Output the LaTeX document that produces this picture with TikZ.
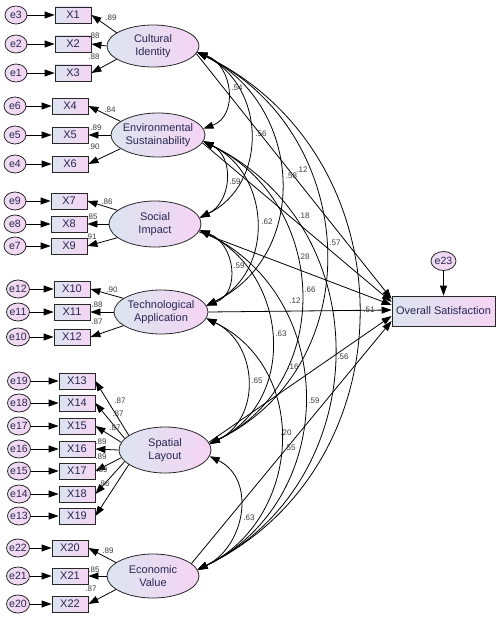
\documentclass[tikz,border=0pt]{standalone}
\usepackage{fontspec}
\setmainfont{Liberation Sans}
\usetikzlibrary{shapes.geometric,arrows.meta}
\definecolor{lftc}{RGB}{220,228,240}
\definecolor{rgtc}{RGB}{245,212,243}
\definecolor{errl}{RGB}{236,222,240}
\definecolor{errr}{RGB}{245,212,243}
\definecolor{txtc}{RGB}{40,40,80}
\definecolor{numc}{RGB}{60,60,60}
\definecolor{edgec}{RGB}{40,40,40}
\begin{document}
\begin{tikzpicture}[x=1pt,y=-1pt,
  latn/.style={ellipse, draw=edgec, line width=0.8pt, left color=lftc, right color=rgtc, minimum width=92pt, minimum height=44pt, inner sep=0pt},
  lt/.style={align=center, font=\fontsize{11}{13}\selectfont, text=txtc, inner sep=0pt},
  obs/.style={rectangle, draw=edgec, line width=0.8pt, left color=lftc, right color=rgtc, minimum width=36pt, minimum height=16pt, inner sep=0pt, font=\fontsize{11}{13}\selectfont, text=txtc},
  err/.style={ellipse, draw=edgec, line width=0.8pt, left color=errl, right color=errr, minimum width=22pt, minimum height=18pt, inner sep=0pt},
  et/.style={font=\fontsize{10.5}{12}\selectfont, text=txtc, inner sep=0pt},
  arr/.style={-{Triangle[length=10pt,width=7pt]}, line width=0.8pt},
  cov/.style={{Triangle[length=10pt,width=7pt]}-{Triangle[length=10pt,width=7pt]}, line width=0.8pt, out=-26, in=26, looseness=1.18},
  covn/.style={cov, out=-20, in=20, looseness=1.26},
  num/.style={font=\fontsize{8}{9}\selectfont, text=numc, inner sep=0pt}
]
\fill[white] (0,0) rectangle (498,618);
\useasboundingbox (0,0) rectangle (498,618);

% latent variables
\node[latn, minimum height=42pt, label={[lt]center:{Cultural\\Identity}}] (ci) at (153,46) {};
\node[latn, minimum width=94pt, label={[lt]center:{Environmental\\Sustainability}}] (es) at (158,135) {};
\node[latn, minimum height=46pt, label={[lt]center:{Social\\Impact}}] (si) at (155,224) {};
\node[latn, minimum width=94pt, label={[lt]center:{Technological\\Application}}] (ta) at (161,312) {};
\node[latn, minimum height=46pt, label={[lt]center:{Spatial\\Layout}}] (sl) at (165,450) {};
\node[latn, label={[lt]center:{Economic\\Value}}] (ev) at (153,576) {};

% observed variables
\node[obs] (x1) at (73,15) {X1};
\node[obs] (x2) at (73,44) {X2};
\node[obs] (x3) at (73,73) {X3};
\node[obs] (x4) at (70,106) {X4};
\node[obs] (x5) at (70,135) {X5};
\node[obs] (x6) at (70,164) {X6};
\node[obs] (x7) at (69,201) {X7};
\node[obs] (x8) at (69,224) {X8};
\node[obs] (x9) at (69,246) {X9};
\node[obs] (x10) at (72,289) {X10};
\node[obs] (x11) at (72,312) {X11};
\node[obs] (x12) at (72,337) {X12};
\node[obs] (x13) at (77,381) {X13};
\node[obs] (x14) at (77,403) {X14};
\node[obs] (x15) at (77,426) {X15};
\node[obs] (x16) at (77,449) {X16};
\node[obs] (x17) at (77,471) {X17};
\node[obs] (x18) at (77,494) {X18};
\node[obs] (x19) at (77,516) {X19};
\node[obs] (x20) at (70,548) {X20};
\node[obs] (x21) at (70,576) {X21};
\node[obs] (x22) at (70,604) {X22};

% error terms
\node[err, label={[et]center:e3}] (e3) at (16,15) {};
\node[err, label={[et]center:e2}] (e2) at (16,44) {};
\node[err, label={[et]center:e1}] (e1) at (16,73) {};
\node[err, label={[et]center:e6}] (e6) at (15,106) {};
\node[err, label={[et]center:e5}] (e5) at (15,135) {};
\node[err, label={[et]center:e4}] (e4) at (15,164) {};
\node[err, label={[et]center:e9}] (e9) at (15,201) {};
\node[err, label={[et]center:e8}] (e8) at (15,224) {};
\node[err, label={[et]center:e7}] (e7) at (15,246) {};
\node[err, minimum width=23pt, label={[et]center:e12}] (e12) at (18,289) {};
\node[err, minimum width=23pt, label={[et]center:e11}] (e11) at (18,312) {};
\node[err, minimum width=23pt, label={[et]center:e10}] (e10) at (18,337) {};
\node[err, minimum width=23pt, label={[et]center:e19}] (e19) at (19,381) {};
\node[err, minimum width=23pt, label={[et]center:e18}] (e18) at (19,403) {};
\node[err, minimum width=23pt, label={[et]center:e17}] (e17) at (19,426) {};
\node[err, minimum width=23pt, label={[et]center:e16}] (e16) at (19,449) {};
\node[err, minimum width=23pt, label={[et]center:e15}] (e15) at (19,471) {};
\node[err, minimum width=23pt, label={[et]center:e14}] (e14) at (19,494) {};
\node[err, minimum width=23pt, label={[et]center:e13}] (e13) at (19,516) {};
\node[err, minimum width=23pt, label={[et]center:e22}] (e22) at (18,548) {};
\node[err, minimum width=23pt, label={[et]center:e21}] (e21) at (18,576) {};
\node[err, minimum width=23pt, label={[et]center:e20}] (e20) at (18,604) {};

% outcome
\node[obs, minimum width=103pt, minimum height=30pt] (os) at (443.5,311) {Overall Satisfaction};
\node[err, minimum width=25pt, minimum height=19pt, label={[et]center:e23}] (e23) at (443.5,261) {};
\draw[arr] (e23) -- (os);

% error arrows
\foreach \e/\x in {e3/x1,e2/x2,e1/x3,e6/x4,e5/x5,e4/x6,e9/x7,e8/x8,e7/x9,e12/x10,e11/x11,e10/x12,e19/x13,e18/x14,e17/x15,e16/x16,e15/x17,e14/x18,e13/x19,e22/x20,e21/x21,e20/x22}
  \draw[arr] (\e) -- (\x);

% loadings
\foreach \l/\a/\x in {ci/160/x1,ci/180/x2,ci/200/x3,es/160/x4,es/180/x5,es/200/x6,si/160/x7,si/180/x8,si/200/x9,ta/160/x10,ta/180/x11,ta/200/x12,sl/158/x13,sl/164/x14,sl/170/x15,sl/180/x16,sl/190/x17,sl/196/x18,sl/202/x19,ev/160/x20,ev/180/x21,ev/200/x22}
  \draw[arr] (\l.\a) -- (\x.east);

% structural paths
\draw[arr] (ci.-10) -- ([yshift=12pt]os.west);
\draw[arr] (es.-10) -- ([yshift=9pt]os.west);
\draw[arr] (si.-10) -- ([yshift=6pt]os.west);
\draw[arr] (ta.0) -- ([yshift=1pt]os.west);
\draw[arr] (sl.10) -- ([yshift=-5pt]os.west);
\draw[arr] (ev.18) -- ([yshift=-10pt]os.west);

% covariances
\draw[covn] (ci.-8) to (es.8);
\draw[cov] (ci.-8) to (si.8);
\draw[cov] (ci.-8) to (ta.8);
\draw[cov] (ci.-8) to (sl.8);
\draw[cov] (ci.-8) to (ev.8);
\draw[cov] (es.-8) to (si.8);
\draw[cov] (es.-8) to (ta.8);
\draw[cov] (es.-8) to (sl.8);
\draw[cov] (es.-8) to (ev.8);
\draw[covn] (si.-8) to (ta.8);
\draw[cov] (si.-8) to (sl.8);
\draw[cov] (si.-8) to (ev.8);
\draw[cov] (ta.-8) to (sl.8);
\draw[cov] (ta.-8) to (ev.8);
\draw[cov] (sl.-8) to (ev.8);

% loading labels
\node[num] (n1) at (111,18) {.89};
\node[num] (n2) at (94,36) {.88};
\node[num] (n3) at (94,57) {.88};
\node[num] (n4) at (110,110) {.84};
\node[num] (n5) at (96,128) {.89};
\node[num] (n6) at (94,147) {.90};
\node[num] (n7) at (107,202) {.86};
\node[num] (n8) at (92,217) {.85};
\node[num] (n9) at (91,237) {.91};
\node[num] (n10) at (112,290) {.90};
\node[num] (n11) at (97,305) {.88};
\node[num] (n12) at (97,322) {.87};
\node[num] (n13) at (120,401) {.87};
\node[num] (n14) at (118,414) {.87};
\node[num] (n15) at (115,428) {.87};
\node[num] (n16) at (101,442) {.89};
\node[num] (n17) at (101,457) {.89};
\node[num] (n18) at (102,470) {.89};
\node[num] (n19) at (104,484) {.86};
\node[num] (n20) at (108,551) {.89};
\node[num] (n21) at (94,570) {.85};
\node[num] (n22) at (91,589) {.87};

% covariance and path labels
\node[num] (c1) at (237,88) {.54};
\node[num] (c2) at (261,134) {.56};
\node[num] (c3) at (291.5,176) {.58};
\node[num] (p1) at (302,170) {.12};
\node[num] (c4) at (235,182) {.59};
\node[num] (p2) at (304,216) {.18};
\node[num] (c5) at (267,222) {.62};
\node[num] (c6) at (335,243) {.57};
\node[num] (c7) at (239,266) {.59};
\node[num] (p3) at (304,257) {.28};
\node[num] (c8) at (310,290) {.66};
\node[num] (p4) at (295,301) {.12};
\node[num] (c9) at (369,310) {.51};
\node[num] (c10) at (281,334) {.63};
\node[num] (p5) at (293,367) {.16};
\node[num] (c11) at (343,357) {.56};
\node[num] (c12) at (257,381) {.65};
\node[num] (c13) at (314,401) {.59};
\node[num] (p6) at (286,433) {.20};
\node[num] (c14) at (290,448) {.55};
\node[num] (c15) at (249,518) {.63};
\end{tikzpicture}
\end{document}
